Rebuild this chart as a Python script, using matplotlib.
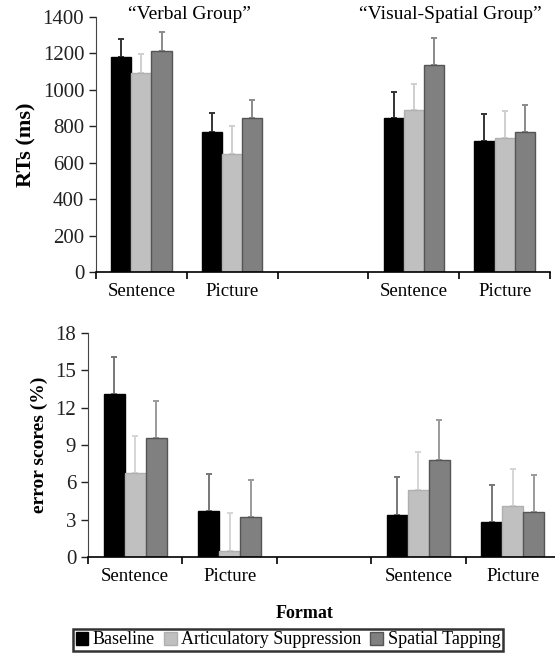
import matplotlib.pyplot as plt
import numpy as np
from matplotlib.patches import Patch

plt.rcParams['font.family'] = ['Liberation Serif', 'DejaVu Serif']

# slots: verbal sentence, verbal picture, (gap), visual sentence, visual picture
slot_labels = ['Sentence', 'Picture', '', 'Sentence', 'Picture']
conditions = ['Baseline', 'Articulatory Suppression', 'Spatial Tapping']

rt_baseline = [1180, 770, np.nan, 845, 720]
rt_artsup = [1090, 650, np.nan, 890, 735]
rt_tapping = [1215, 845, np.nan, 1135, 770]
rt_err_baseline = [100, 105, np.nan, 145, 150]
rt_err_artsup = [105, 150, np.nan, 140, 150]
rt_err_tapping = [105, 100, np.nan, 150, 145]

err_baseline = [13.1, 3.7, np.nan, 3.4, 2.8]
err_artsup = [6.75, 0.5, np.nan, 5.4, 4.1]
err_tapping = [9.55, 3.2, np.nan, 7.8, 3.6]
err_err_baseline = [3.0, 3.0, np.nan, 3.0, 3.0]
err_err_artsup = [3.0, 3.0, np.nan, 3.0, 3.0]
err_err_tapping = [3.0, 3.0, np.nan, 3.2, 3.0]

bar_colors = ['#000000', '#c0c0c0', '#808080']
edge_colors = ['#000000', '#b0b0b0', '#555555']

fig = plt.figure(figsize=(5.55, 6.55), dpi=100)
ax1 = fig.add_axes([96/555, (655-272)/655, 454/555, 255/655])
ax2 = fig.add_axes([88/555, (655-557)/655, 472/555, 224/655])

x = np.arange(len(slot_labels))
w = 0.222


def draw(ax, series, errs, ylim, yticks, ylabel, ylabel_size, ebar_cols):
    for i, (vals, e) in enumerate(zip(series, errs)):
        pos = x + (i - 1) * w
        vals = np.array(vals, dtype=float)
        e = np.array(e, dtype=float)
        ok = ~np.isnan(vals)
        ax.bar(pos[ok], vals[ok], width=w, color=bar_colors[i],
               edgecolor=edge_colors[i], linewidth=1.0, zorder=2)
        ax.errorbar(pos[ok], vals[ok], yerr=[np.zeros(ok.sum()), e[ok]],
                    fmt='none', ecolor=ebar_cols[i], elinewidth=1.4,
                    capsize=2, capthick=1.4, zorder=1)
    ax.set_xlim(-0.5, len(slot_labels) - 0.5)
    ax.set_ylim(*ylim)
    ax.set_yticks(yticks)
    ax.set_xticks(x)
    ax.set_xticklabels(slot_labels, fontsize=13.5)
    ax.set_xticks(np.arange(-0.5, len(slot_labels)), minor=True)
    ax.tick_params(axis='x', which='major', length=0, pad=8)
    ax.tick_params(axis='x', which='minor', length=5, width=1.2, direction='out')
    ax.tick_params(axis='y', length=5, width=1.0, direction='out', labelsize=15, colors='#222222')
    for s in ['top', 'right']:
        ax.spines[s].set_visible(False)
    ax.spines['left'].set_color('#444444')
    ax.spines['bottom'].set_linewidth(1.2)
    ax.set_ylabel(ylabel, fontsize=ylabel_size, fontweight='bold')


draw(ax1, [rt_baseline, rt_artsup, rt_tapping],
     [rt_err_baseline, rt_err_artsup, rt_err_tapping],
     (0, 1400), range(0, 1401, 200), 'RTs (ms)', 16,
     ['#333333', '#cfcfcf', '#8a8a8a'])
draw(ax2, [err_baseline, err_artsup, err_tapping],
     [err_err_baseline, err_err_artsup, err_err_tapping],
     (0, 18), range(0, 19, 3), 'error scores (%)', 14,
     ['#777777', '#d5d5d5', '#9a9a9a'])

ax1.text(0.53, 1412, '\u201cVerbal Group\u201d', ha='center', va='center', fontsize=14)
ax1.text(3.4, 1412, '\u201cVisual-Spatial Group\u201d', ha='center', va='center', fontsize=14)
ax1.yaxis.set_label_coords(-0.13, 0.5)
ax2.yaxis.set_label_coords(-0.085, 0.5)

fig.text(305/555, 1 - 613/655, 'Format', ha='center', va='center',
         fontsize=13, fontweight='bold')

handles = [Patch(facecolor=c, edgecolor=ec) for c, ec in zip(bar_colors, edge_colors)]
leg = fig.legend(handles, conditions, loc='center', bbox_to_anchor=(288/555, 1 - 640/655),
                 ncol=3, fontsize=13, frameon=True, fancybox=False, handlelength=0.7,
                 handleheight=0.7, handletextpad=0.25, columnspacing=0.5,
                 borderpad=0.15, borderaxespad=0)
leg.get_frame().set_edgecolor('black')
leg.get_frame().set_linewidth(1.8)

fig.savefig('out.png', dpi=100)
